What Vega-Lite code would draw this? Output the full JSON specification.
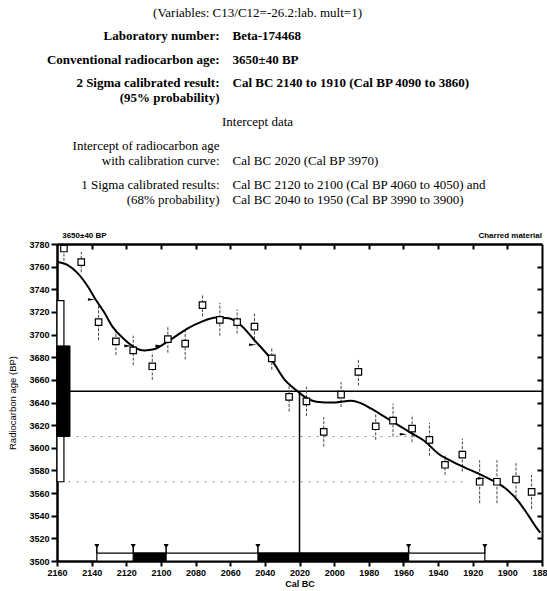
{
  "$schema": "https://vega.github.io/schema/vega-lite/v6.json",
  "background": "white",
  "padding": {"left": 7, "top": 7, "right": 0, "bottom": 0},
  "bounds": "flush",
  "spacing": 49,
  "config": {
    "view": {"stroke": null},
    "axis": {
      "labelFont": "Liberation Sans", "labelFontWeight": "bold", "labelFontSize": 9, "labelColor": "black",
      "titleFont": "Liberation Sans", "titleFontWeight": "bold", "titleFontSize": 9, "titleColor": "black",
      "tickColor": "black", "tickWidth": 2, "domainColor": "black", "domainWidth": 2.5, "grid": false,
      "labelFlush": false, "labelOverlap": false, "labelBound": false
    }
  },
  "datasets": {
    "report": [
      {"row": 0, "section": "heading", "label": "(Variables:  C13/C12=-26.2:lab. mult=1)"},
      {"row": 0.98, "section": "result", "label": "Laboratory number:", "value": "Beta-174468"},
      {"row": 2.0, "section": "result", "label": "Conventional radiocarbon age:", "value": "3650±40 BP"},
      {"row": 2.98, "section": "result", "label": ["2 Sigma calibrated result:", "(95% probability)"], "value": "Cal BC 2140 to 1910 (Cal BP 4090 to 3860)"},
      {"row": 4.62, "section": "heading", "label": "Intercept data"},
      {"row": 5.64, "section": "intercept", "label": ["Intercept of radiocarbon age", "with calibration curve:"], "value": ["", "Cal BC 2020 (Cal BP 3970)"]},
      {"row": 7.3, "section": "intercept", "label": ["1 Sigma calibrated results:", "(68% probability)"], "value": ["Cal BC 2120 to 2100 (Cal BP 4060 to 4050) and", "Cal BC 2040 to 1950 (Cal BP 3990 to 3900)"]}
    ],
    "curve": [
      {"year": 2160, "age": 3764}, {"year": 2154, "age": 3761.5}, {"year": 2148, "age": 3754},
      {"year": 2142, "age": 3742}, {"year": 2137.5, "age": 3730.5}, {"year": 2132.5, "age": 3719},
      {"year": 2128, "age": 3707}, {"year": 2122, "age": 3697}, {"year": 2115.5, "age": 3689},
      {"year": 2109.5, "age": 3686}, {"year": 2104, "age": 3687}, {"year": 2098, "age": 3692},
      {"year": 2092, "age": 3698}, {"year": 2084.5, "age": 3705.5}, {"year": 2077, "age": 3711},
      {"year": 2068, "age": 3715}, {"year": 2061, "age": 3714.5}, {"year": 2054, "age": 3708.5},
      {"year": 2046, "age": 3695}, {"year": 2036, "age": 3677.5}, {"year": 2028.5, "age": 3660},
      {"year": 2022, "age": 3651}, {"year": 2017, "age": 3645}, {"year": 2009, "age": 3640.5},
      {"year": 2001.5, "age": 3640}, {"year": 1990, "age": 3641.5}, {"year": 1984, "age": 3639},
      {"year": 1978.5, "age": 3634.5}, {"year": 1971, "age": 3627.5}, {"year": 1963, "age": 3620},
      {"year": 1955.5, "age": 3613}, {"year": 1947.5, "age": 3605.5}, {"year": 1940, "age": 3595},
      {"year": 1932, "age": 3588}, {"year": 1924.5, "age": 3582.5}, {"year": 1917, "age": 3577.5},
      {"year": 1909, "age": 3571.5}, {"year": 1901, "age": 3564}, {"year": 1893.5, "age": 3552.5},
      {"year": 1888, "age": 3540.5}, {"year": 1883, "age": 3529}, {"year": 1881, "age": 3525}
    ],
    "dates": [
      {"year": 2156, "age": 3776, "low": 3765, "high": 3787},
      {"year": 2146, "age": 3764, "low": 3755, "high": 3773},
      {"year": 2136, "age": 3711, "low": 3695, "high": 3727},
      {"year": 2126, "age": 3694, "low": 3682, "high": 3705},
      {"year": 2116, "age": 3686, "low": 3673, "high": 3699},
      {"year": 2105, "age": 3672, "low": 3660, "high": 3684},
      {"year": 2096, "age": 3696, "low": 3684, "high": 3708},
      {"year": 2086, "age": 3692, "low": 3678, "high": 3705},
      {"year": 2076, "age": 3726, "low": 3716, "high": 3736},
      {"year": 2066, "age": 3713, "low": 3699, "high": 3728},
      {"year": 2056, "age": 3711, "low": 3701, "high": 3722},
      {"year": 2046, "age": 3707, "low": 3696, "high": 3719},
      {"year": 2036, "age": 3679, "low": 3669, "high": 3689},
      {"year": 2026, "age": 3645, "low": 3632, "high": 3657},
      {"year": 2016, "age": 3641, "low": 3628, "high": 3654},
      {"year": 2006, "age": 3614, "low": 3601, "high": 3627},
      {"year": 1996, "age": 3647, "low": 3636, "high": 3658},
      {"year": 1986, "age": 3667, "low": 3655, "high": 3679},
      {"year": 1976, "age": 3619, "low": 3607, "high": 3630},
      {"year": 1966, "age": 3624, "low": 3610, "high": 3639},
      {"year": 1955, "age": 3617, "low": 3605, "high": 3629},
      {"year": 1945, "age": 3607, "low": 3593, "high": 3622},
      {"year": 1936, "age": 3585, "low": 3576, "high": 3593},
      {"year": 1926, "age": 3594, "low": 3579, "high": 3608},
      {"year": 1916, "age": 3570, "low": 3551, "high": 3589},
      {"year": 1906, "age": 3570, "low": 3551, "high": 3589},
      {"year": 1895, "age": 3572, "low": 3556, "high": 3588},
      {"year": 1886, "age": 3561, "low": 3546, "high": 3576}
    ],
    "levels": [
      {"age": 3650, "kind": "conventional age"}
    ],
    "bounds": [
      {"age": 3610, "kind": "1 sigma lower bound", "from": 2158, "to": 1952},
      {"age": 3570, "kind": "2 sigma lower bound", "from": 2158, "to": 1925}
    ],
    "intercept": [
      {"vertex": 1, "year": 2020, "age": 3650},
      {"vertex": 2, "year": 2020, "age": 3500}
    ],
    "ranges": [
      {"sigma": "2 sigma", "from": 2137, "to": 1913},
      {"sigma": "1 sigma", "from": 2116, "to": 2097},
      {"sigma": "1 sigma", "from": 2044, "to": 1957}
    ],
    "limits": [{"year": 2137}, {"year": 2116}, {"year": 2097}, {"year": 2044}, {"year": 1957}, {"year": 1913}],
    "crossings": [
      {"year": 2140, "age": 3731}, {"year": 2119, "age": 3690}, {"year": 2101, "age": 3690},
      {"year": 2047, "age": 3691}, {"year": 1960, "age": 3612}, {"year": 1915, "age": 3573}
    ],
    "ageBands": [
      {"sigma": "2 sigma", "low": 3570, "high": 3730},
      {"sigma": "1 sigma", "low": 3610, "high": 3690}
    ],
    "notes": [
      {"note": "3650±40 BP", "side": "left"},
      {"note": "Charred material", "side": "right"}
    ]
  },
  "vconcat": [
    {
      "width": 435,
      "height": 188,
      "data": {"name": "report"},
      "encoding": {
        "y": {"field": "row", "type": "quantitative", "scale": {"domain": [0, 8], "reverse": true, "nice": false, "zero": false}, "axis": null}
      },
      "layer": [
        {
          "transform": [{"filter": "datum.section === 'heading'"}],
          "mark": {"type": "text", "font": "Liberation Serif", "fontSize": 13, "baseline": "top", "align": "center", "dx": -17, "color": "black"},
          "encoding": {"text": {"field": "label", "type": "nominal"}}
        },
        {
          "transform": [{"filter": "datum.section === 'result'"}],
          "mark": {"type": "text", "font": "Liberation Serif", "fontSize": 13, "fontWeight": "bold", "baseline": "top", "align": "right", "dx": -55, "lineHeight": 15, "color": "black"},
          "encoding": {"text": {"field": "label", "type": "nominal"}}
        },
        {
          "transform": [{"filter": "datum.section === 'result'"}],
          "mark": {"type": "text", "font": "Liberation Serif", "fontSize": 13, "fontWeight": "bold", "baseline": "top", "align": "left", "dx": -42, "lineHeight": 15, "color": "black"},
          "encoding": {"text": {"field": "value", "type": "nominal"}}
        },
        {
          "transform": [{"filter": "datum.section === 'intercept'"}],
          "mark": {"type": "text", "font": "Liberation Serif", "fontSize": 13, "baseline": "top", "align": "right", "dx": -55, "lineHeight": 15.5, "color": "black"},
          "encoding": {"text": {"field": "label", "type": "nominal"}}
        },
        {
          "transform": [{"filter": "datum.section === 'intercept'"}],
          "mark": {"type": "text", "font": "Liberation Serif", "fontSize": 13, "baseline": "top", "align": "left", "dx": -42, "lineHeight": 15.5, "color": "black"},
          "encoding": {"text": {"field": "value", "type": "nominal"}}
        }
      ]
    },
    {
      "width": 485,
      "height": 317,
      "resolve": {"axis": {"x": "independent", "y": "independent"}},
      "layer": [
        {
          "data": {"name": "bounds"},
          "mark": {"type": "rule", "color": "#8a8a8a", "strokeWidth": 1, "strokeDash": [2, 6]},
          "encoding": {
            "x": {"field": "from", "type": "quantitative", "scale": {"domain": [1880, 2160], "reverse": true, "nice": false, "zero": false}, "axis": null},
            "x2": {"field": "to"},
            "y": {"field": "age", "type": "quantitative", "scale": {"domain": [3500, 3780], "nice": false, "zero": false}, "axis": null}
          }
        },
        {
          "data": {"name": "levels"},
          "mark": {"type": "rule", "color": "black", "strokeWidth": 1.5},
          "encoding": {
            "y": {"field": "age", "type": "quantitative", "scale": {"domain": [3500, 3780], "nice": false, "zero": false}, "axis": null}
          }
        },
        {
          "data": {"name": "intercept"},
          "mark": {"type": "line", "color": "black", "strokeWidth": 1.5},
          "encoding": {
            "x": {"field": "year", "type": "quantitative", "scale": {"domain": [1880, 2160], "reverse": true, "nice": false, "zero": false}, "axis": null},
            "y": {"field": "age", "type": "quantitative", "scale": {"domain": [3500, 3780], "nice": false, "zero": false}, "axis": null},
            "order": {"field": "vertex", "type": "quantitative"}
          }
        },
        {
          "data": {"name": "dates"},
          "mark": {"type": "rule", "color": "#444444", "strokeWidth": 1, "strokeDash": [3, 1.5], "clip": true},
          "encoding": {
            "x": {"field": "year", "type": "quantitative", "scale": {"domain": [1880, 2160], "reverse": true, "nice": false, "zero": false}, "axis": null},
            "y": {"field": "low", "type": "quantitative", "scale": {"domain": [3500, 3780], "nice": false, "zero": false}, "axis": null},
            "y2": {"field": "high"}
          }
        },
        {
          "data": {"name": "curve"},
          "mark": {"type": "line", "color": "black", "strokeWidth": 2, "interpolate": "monotone"},
          "encoding": {
            "x": {"field": "year", "type": "quantitative", "scale": {"domain": [1880, 2160], "reverse": true, "nice": false, "zero": false},
                  "axis": {"orient": "bottom", "values": [2160, 2140, 2120, 2100, 2080, 2060, 2040, 2020, 2000, 1980, 1960, 1940, 1920, 1900, 1880], "format": "d", "title": "Cal BC", "tickSize": 5, "labelPadding": 2, "titlePadding": 2}},
            "y": {"field": "age", "type": "quantitative", "scale": {"domain": [3500, 3780], "nice": false, "zero": false},
                  "axis": {"orient": "left", "values": [3500, 3520, 3540, 3560, 3580, 3600, 3620, 3640, 3660, 3680, 3700, 3720, 3740, 3760, 3780], "format": "d", "title": "Radiocarbon age (BP)", "titleFontWeight": "normal", "titleFontSize": 9.5, "tickSize": 6, "labelPadding": 2, "titlePadding": 11}}
          }
        },
        {
          "data": {"name": "dates"},
          "mark": {"type": "point", "shape": "square", "filled": true, "fill": "white", "stroke": "black", "strokeWidth": 1.2, "size": 42, "opacity": 1, "clip": true},
          "encoding": {
            "x": {"field": "year", "type": "quantitative", "scale": {"domain": [1880, 2160], "reverse": true, "nice": false, "zero": false},
                  "axis": {"orient": "top", "values": [2140, 2120, 2100, 2080, 2060, 2040, 2020, 2000, 1980, 1960, 1940, 1920, 1900], "labels": false, "tickSize": -5, "title": null}},
            "y": {"field": "age", "type": "quantitative", "scale": {"domain": [3500, 3780], "nice": false, "zero": false},
                  "axis": {"orient": "right", "values": [3520, 3540, 3560, 3580, 3600, 3620, 3640, 3660, 3680, 3700, 3720, 3740, 3760], "labels": false, "tickSize": -5, "title": null, "domainWidth": 2}}
          }
        },
        {
          "data": {"name": "crossings"},
          "mark": {"type": "point", "shape": "M-1,-0.35L1,0L-1,0.35Z", "filled": true, "color": "black", "size": 55, "opacity": 1},
          "encoding": {
            "x": {"field": "year", "type": "quantitative", "scale": {"domain": [1880, 2160], "reverse": true, "nice": false, "zero": false}, "axis": null},
            "y": {"field": "age", "type": "quantitative", "scale": {"domain": [3500, 3780], "nice": false, "zero": false}, "axis": null}
          }
        },
        {
          "data": {"name": "ranges"},
          "mark": {"type": "rect", "stroke": "black", "strokeWidth": 1.2},
          "encoding": {
            "x": {"field": "from", "type": "quantitative", "scale": {"domain": [1880, 2160], "reverse": true, "nice": false, "zero": false}, "axis": null},
            "x2": {"field": "to"},
            "y": {"datum": 3500, "type": "quantitative", "scale": {"domain": [3500, 3780], "nice": false, "zero": false}, "axis": null},
            "y2": {"datum": 3507},
            "color": {"field": "sigma", "type": "nominal", "scale": {"domain": ["2 sigma", "1 sigma"], "range": ["white", "black"]}, "legend": null}
          }
        },
        {
          "data": {"name": "limits"},
          "mark": {"type": "rule", "color": "black", "strokeWidth": 1.5},
          "encoding": {
            "x": {"field": "year", "type": "quantitative", "scale": {"domain": [1880, 2160], "reverse": true, "nice": false, "zero": false}, "axis": null},
            "y": {"datum": 3507, "type": "quantitative", "scale": {"domain": [3500, 3780], "nice": false, "zero": false}, "axis": null},
            "y2": {"datum": 3512}
          }
        },
        {
          "data": {"name": "limits"},
          "mark": {"type": "point", "shape": "triangle-down", "filled": true, "color": "black", "size": 26, "opacity": 1},
          "encoding": {
            "x": {"field": "year", "type": "quantitative", "scale": {"domain": [1880, 2160], "reverse": true, "nice": false, "zero": false}, "axis": null},
            "y": {"datum": 3513, "type": "quantitative", "scale": {"domain": [3500, 3780], "nice": false, "zero": false}, "axis": null}
          }
        },
        {
          "data": {"name": "ageBands"},
          "transform": [{"filter": "datum.sigma === '2 sigma'"}],
          "mark": {"type": "rect", "fill": "white", "stroke": "black", "strokeWidth": 1.2},
          "encoding": {
            "x": {"datum": 2160, "type": "quantitative", "scale": {"domain": [1880, 2160], "reverse": true, "nice": false, "zero": false}, "axis": null},
            "x2": {"datum": 2156},
            "y": {"field": "low", "type": "quantitative", "scale": {"domain": [3500, 3780], "nice": false, "zero": false}, "axis": null},
            "y2": {"field": "high"}
          }
        },
        {
          "data": {"name": "ageBands"},
          "transform": [{"filter": "datum.sigma === '1 sigma'"}],
          "mark": {"type": "rect", "fill": "black", "stroke": "black", "strokeWidth": 1},
          "encoding": {
            "x": {"datum": 2160, "type": "quantitative", "scale": {"domain": [1880, 2160], "reverse": true, "nice": false, "zero": false}, "axis": null},
            "x2": {"datum": 2152.5},
            "y": {"field": "low", "type": "quantitative", "scale": {"domain": [3500, 3780], "nice": false, "zero": false}, "axis": null},
            "y2": {"field": "high"}
          }
        },
        {
          "data": {"name": "notes"},
          "transform": [{"filter": "datum.side === 'left'"}],
          "mark": {"type": "text", "font": "Liberation Sans", "fontWeight": "bold", "fontSize": 8, "align": "left", "baseline": "middle", "color": "black"},
          "encoding": {
            "x": {"datum": 2157, "type": "quantitative", "scale": {"domain": [1880, 2160], "reverse": true, "nice": false, "zero": false}, "axis": null},
            "y": {"datum": 3787, "type": "quantitative", "scale": {"domain": [3500, 3780], "nice": false, "zero": false}, "axis": null},
            "text": {"field": "note", "type": "nominal"}
          }
        },
        {
          "data": {"name": "notes"},
          "transform": [{"filter": "datum.side === 'right'"}],
          "mark": {"type": "text", "font": "Liberation Sans", "fontWeight": "bold", "fontSize": 8, "align": "right", "baseline": "middle", "color": "black"},
          "encoding": {
            "x": {"datum": 1880, "type": "quantitative", "scale": {"domain": [1880, 2160], "reverse": true, "nice": false, "zero": false}, "axis": null},
            "y": {"datum": 3787, "type": "quantitative", "scale": {"domain": [3500, 3780], "nice": false, "zero": false}, "axis": null},
            "text": {"field": "note", "type": "nominal"}
          }
        }
      ]
    }
  ]
}
